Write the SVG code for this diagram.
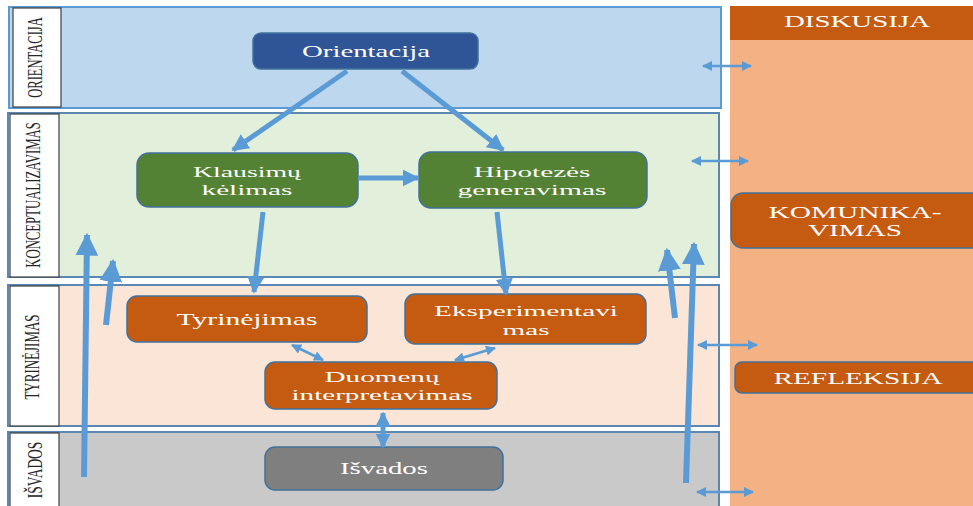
<svg xmlns="http://www.w3.org/2000/svg" width="973" height="506" viewBox="0 0 973 506">
<defs>
<style>
.band{stroke-width:2}
.col{fill:#ffffff;stroke:#404040;stroke-width:1.2}
.vlab{font-family:"Liberation Serif","Times New Roman",serif;font-size:20px;fill:#262626;text-anchor:middle}
.node{stroke:#41719C;stroke-width:1.5}
.nt{font-family:"Liberation Serif","Times New Roman",serif;font-size:17px;fill:#ffffff;text-anchor:middle}
.nt2{font-family:"Liberation Serif","Times New Roman",serif;font-size:15.5px;fill:#ffffff;text-anchor:middle}
.rt{font-family:"Liberation Serif","Times New Roman",serif;font-size:16px;fill:#ffffff;text-anchor:middle}
.thick{stroke:#5B9BD5;stroke-width:5;fill:none}
.vthick{stroke:#5B9BD5;stroke-width:6;fill:none}
.thin{stroke:#5B9BD5;stroke-width:2.5;fill:none}
</style>
<marker id="ah" viewBox="0 0 10 10" refX="9" refY="5" markerWidth="3.4" markerHeight="3.4" markerUnits="strokeWidth" orient="auto">
<path d="M0,0 L10,5 L0,10 z" fill="#5B9BD5"/>
</marker>
<marker id="ahb" viewBox="0 0 10 10" refX="9" refY="5" markerWidth="3.8" markerHeight="3.8" markerUnits="strokeWidth" orient="auto">
<path d="M0,0 L10,5 L0,10 z" fill="#5B9BD5"/>
</marker>
<marker id="as" viewBox="0 0 10 10" refX="9" refY="5" markerWidth="5" markerHeight="4" markerUnits="strokeWidth" orient="auto-start-reverse">
<path d="M0,0 L10,5 L0,10 z" fill="#5B9BD5"/>
</marker>
<marker id="am" viewBox="0 0 10 10" refX="9" refY="5" markerWidth="3" markerHeight="3" markerUnits="strokeWidth" orient="auto-start-reverse">
<path d="M0,0 L10,5 L0,10 z" fill="#5B9BD5"/>
</marker>
</defs>

<rect x="0" y="0" width="973" height="506" fill="#ffffff"/>

<!-- right side -->
<g id="side">
<rect x="730" y="6" width="243" height="500" fill="#F4B183"/>
</g>
<g id="diskusija">
<rect x="730" y="6" width="243" height="34" fill="#C55A11"/>
<text class="rt" x="857" y="27" textLength="146" lengthAdjust="spacingAndGlyphs">DISKUSIJA</text>
</g>

<!-- bands -->
<g id="band-orientacija">
<rect class="band" x="9" y="7" width="712" height="101" fill="#BDD7EE" stroke="#5B9BD5"/>
<rect class="col" x="13" y="8" width="48" height="99"/>
<text class="vlab" transform="translate(42,57.5) rotate(-90) scale(0.62,1)" textLength="130" lengthAdjust="spacingAndGlyphs">ORIENTACIJA</text>
</g>
<g id="band-konceptualizavimas">
<rect class="band" x="8" y="113" width="711" height="164" fill="#E2EFDA" stroke="#5B87B5"/>
<rect class="col" x="10" y="114" width="49" height="163"/>
<text class="vlab" transform="translate(40,195) rotate(-90) scale(0.63,1)" textLength="231" lengthAdjust="spacingAndGlyphs">KONCEPTUALIZAVIMAS</text>
</g>
<g id="band-tyrinejimas">
<rect class="band" x="8" y="285" width="711" height="141" fill="#FBE5D6" stroke="#5B87B5"/>
<rect class="col" x="10" y="286" width="49" height="140"/>
<text class="vlab" transform="translate(39,357) rotate(-90) scale(0.65,1)" textLength="131" lengthAdjust="spacingAndGlyphs">TYRINĖJIMAS</text>
</g>
<g id="band-isvados">
<rect class="band" x="8" y="432" width="711" height="76" fill="#C9C9C9" stroke="#5B87B5"/>
<rect class="col" x="10" y="433" width="49" height="75"/>
<text class="vlab" transform="translate(42,470) rotate(-90) scale(0.65,1)" textLength="87" lengthAdjust="spacingAndGlyphs">IŠVADOS</text>
</g>

<!-- right boxes -->
<g id="komunikavimas">
<rect class="node" x="731" y="193" width="260" height="55" rx="12" fill="#C55A11"/>
<text class="rt" x="855" y="218" textLength="173" lengthAdjust="spacingAndGlyphs">KOMUNIKA-</text>
<text class="rt" x="855" y="236" textLength="94" lengthAdjust="spacingAndGlyphs">VIMAS</text>
</g>
<g id="refleksija">
<rect class="node" x="735" y="362" width="260" height="31" rx="7" fill="#C55A11"/>
<text class="rt" x="858" y="384" textLength="169" lengthAdjust="spacingAndGlyphs">REFLEKSIJA</text>
</g>

<!-- nodes -->
<g id="orientacija">
<rect class="node" x="253" y="33" width="225" height="36" rx="8" fill="#2F5597"/>
<text class="nt" x="366" y="57" textLength="128" lengthAdjust="spacingAndGlyphs">Orientacija</text>
</g>
<g id="klausimu">
<rect class="node" x="137" y="153" width="221" height="54" rx="12" fill="#548235"/>
<text class="nt2" x="247" y="177" textLength="108" lengthAdjust="spacingAndGlyphs">Klausimų</text>
<text class="nt2" x="247" y="195" textLength="91" lengthAdjust="spacingAndGlyphs">kėlimas</text>
</g>
<g id="hipotezes">
<rect class="node" x="419" y="152" width="228" height="56" rx="12" fill="#548235"/>
<text class="nt2" x="532" y="177" textLength="117" lengthAdjust="spacingAndGlyphs">Hipotezės</text>
<text class="nt2" x="532" y="195" textLength="149" lengthAdjust="spacingAndGlyphs">generavimas</text>
</g>
<g id="tyrinejimas">
<rect class="node" x="127" y="296" width="240" height="46" rx="10" fill="#C55A11"/>
<text class="nt" x="247" y="325" textLength="141" lengthAdjust="spacingAndGlyphs">Tyrinėjimas</text>
</g>
<g id="eksperimentavimas">
<rect class="node" x="405" y="294" width="241" height="50" rx="10" fill="#C55A11"/>
<text class="nt2" x="526" y="316" textLength="184" lengthAdjust="spacingAndGlyphs">Eksperimentavi</text>
<text class="nt2" x="526" y="335" textLength="47" lengthAdjust="spacingAndGlyphs">mas</text>
</g>
<g id="duomenu">
<rect class="node" x="265" y="362" width="232" height="47" rx="10" fill="#C55A11"/>
<text class="nt2" x="382" y="382" textLength="115" lengthAdjust="spacingAndGlyphs">Duomenų</text>
<text class="nt2" x="382" y="400" textLength="181" lengthAdjust="spacingAndGlyphs">interpretavimas</text>
</g>
<g id="isvados">
<rect class="node" x="265" y="447" width="238" height="43" rx="10" fill="#7F7F7F"/>
<text class="nt" x="384" y="474" textLength="88" lengthAdjust="spacingAndGlyphs">Išvados</text>
</g>

<!-- connectors -->
<g id="connectors">
<line class="thick" x1="347" y1="71" x2="233" y2="150" marker-end="url(#ah)"/>
<line class="thick" x1="402" y1="71" x2="503" y2="150" marker-end="url(#ah)"/>
<line class="thick" x1="358" y1="178" x2="418" y2="178" marker-end="url(#ah)"/>
<line class="thick" x1="263" y1="212" x2="254" y2="292" marker-end="url(#ah)"/>
<line class="thick" x1="497" y1="212" x2="506" y2="294" marker-end="url(#ah)"/>
<line class="vthick" x1="84" y1="477" x2="87" y2="235" marker-end="url(#ahb)"/>
<line class="vthick" x1="106" y1="325" x2="113" y2="261" marker-end="url(#ahb)"/>
<line class="vthick" x1="675" y1="318" x2="667" y2="250" marker-end="url(#ahb)"/>
<line class="vthick" x1="686" y1="483" x2="694" y2="244" marker-end="url(#ahb)"/>
<line class="thin" x1="703" y1="66" x2="751" y2="66" marker-start="url(#as)" marker-end="url(#as)"/>
<line class="thin" x1="692" y1="161" x2="748" y2="161" marker-start="url(#as)" marker-end="url(#as)"/>
<line class="thin" x1="698" y1="345" x2="757" y2="345" marker-start="url(#as)" marker-end="url(#as)"/>
<line class="thin" x1="697" y1="492" x2="753" y2="492" marker-start="url(#as)" marker-end="url(#as)"/>
<line class="thin" x1="292" y1="345" x2="323" y2="360" marker-start="url(#as)" marker-end="url(#as)"/>
<line class="thin" x1="495" y1="348" x2="455" y2="360" marker-start="url(#as)" marker-end="url(#as)"/>
<line class="thick" x1="383" y1="413" x2="383" y2="447" stroke-width="4" marker-start="url(#am)" marker-end="url(#am)"/>
</g>
</svg>
